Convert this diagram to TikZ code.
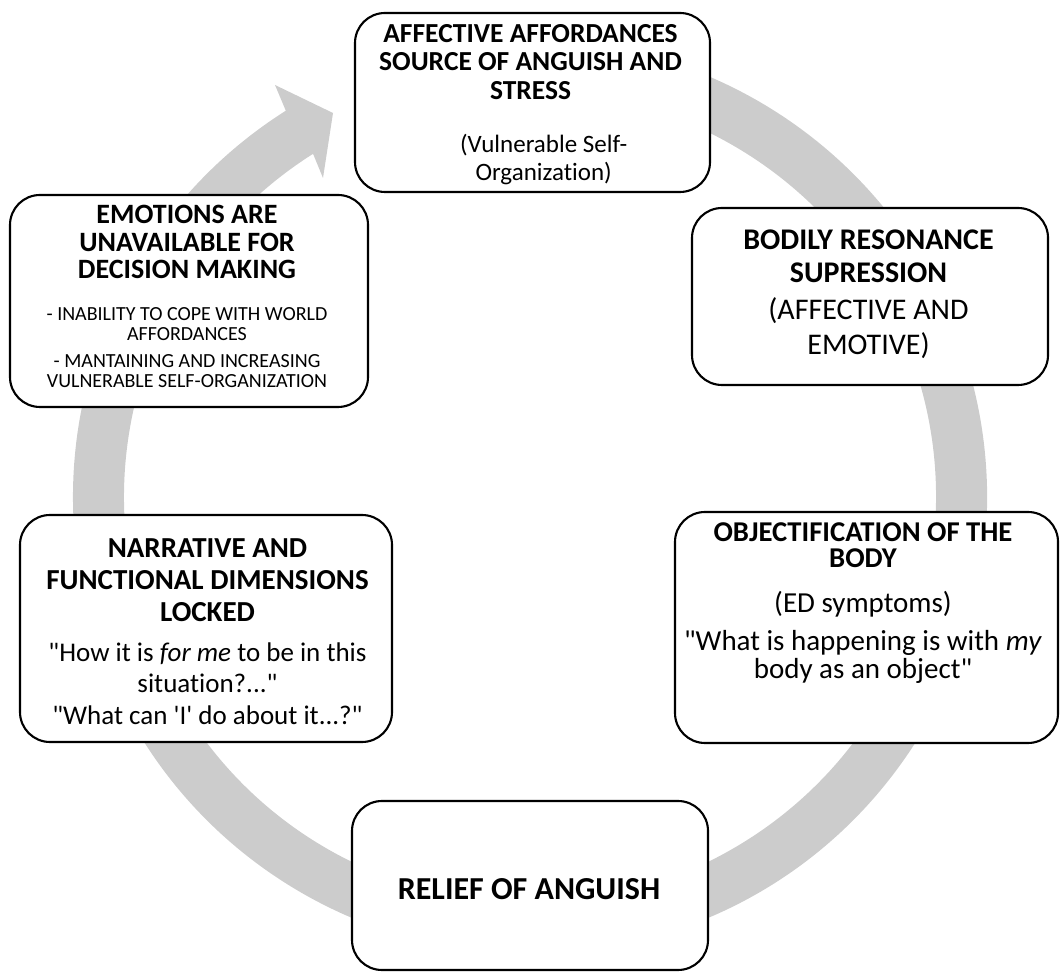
\documentclass[tikz,border=0pt]{standalone}
\usepackage{fontspec}
\setmainfont{Carlito}[Ligatures=NoCommon]
\usetikzlibrary{fit,calc}
\definecolor{ringgray}{RGB}{204,204,204}
\newcommand{\myfs}[2]{\fontsize{#1pt}{#2pt}\selectfont}
\newcommand{\dq}{\textquotedbl}
\tikzset{
  box/.style={draw=black, line width=1.2pt, rounded corners=0.6cm, fill=white, inner sep=0pt},
  txt/.style={inner sep=0pt, anchor=north, text width=9cm, align=flush center,
    execute at begin node=\setlength{\parindent}{0pt}},
}
\begin{document}
\begin{tikzpicture}[x=0.02cm,y=0.02cm]
\useasboundingbox (0,0) rectangle (1060,973);
% ring arrow
\coordinate (c) at (530,476);
\coordinate (ahout) at (275,888);
\coordinate (ahtip) at (333,860);
\coordinate (ahin) at (323,795);
\fill[ringgray] ($(c)+(105:457)$) arc[start angle=105,end angle=-237.7,radius=457]
  -- (ahout) -- (ahtip) -- (ahin) -- ($(c)+(-237.7:406)$)
  arc[start angle=-237.7,end angle=105,radius=406] -- cycle;
% boxes
\node[box, fit={(355,960) (710,781)}] (aff) {};
\node[box, fit={(10,778) (368,566)}] (emo) {};
\node[box, fit={(692,765) (1048,588)}] (bod) {};
\node[box, fit={(20,458) (392,231)}] (nar) {};
\node[box, fit={(675,461) (1058,230)}] (obj) {};
\node[box, fit={(352,172) (708,3)}] (rel) {};
% texts
\node[txt] (afft) at (530.5,949) {%
  {\bfseries\myfs{15.65}{16.22}AFFECTIVE AFFORDANCES\\SOURCE OF ANGUISH AND\\STRESS\par}
  \vspace{14.2pt}
  {\myfs{14.23}{15.93}\leftskip=15pt plus 1fil (Vulnerable Self-\\Organization)\par}};
\node[txt] (emot) at (187,767.7) {%
  {\bfseries\myfs{15.93}{15.65}EMOTIONS ARE\\UNAVAILABLE FOR\\DECISION MAKING\par}
  \vspace{12.5pt}
  {\myfs{11.38}{11.38}- INABILITY TO COPE WITH WORLD\\AFFORDANCES\par}
  \vspace{4pt}
  {\myfs{11.38}{11.38}- MANTAINING AND INCREASING\\VULNERABLE SELF-ORGANIZATION\par}};
\node[txt] (bodt) at (868.5,744) {%
  {\bfseries\myfs{17.07}{18.95}BODILY RESONANCE\\SUPRESSION\par}
  \vspace{1pt}
  {\myfs{17.07}{19.92}(AFFECTIVE AND\\EMOTIVE)\par}};
\node[txt] (nart) at (207.5,434.3) {%
  {\bfseries\myfs{16.5}{18.04}NARRATIVE AND\\FUNCTIONAL DIMENSIONS\\LOCKED\par}
  \vspace{5.1pt}
  {\myfs{15.36}{17.64}\dq How it is \textit{for me} to be in this\\situation?...\dq\par}
  \vspace{1pt}
  {\myfs{15.36}{17.64}\dq What can \textquotesingle I\textquotesingle{} do about it...?\dq\par}};
\node[txt] (objt) at (863,451.1) {%
  {\bfseries\myfs{16.33}{15.19}OBJECTIFICATION OF THE\\BODY\par}
  \vspace{9.7pt}
  {\myfs{16.5}{15.93}(ED symptoms)\par}
  \vspace{5.7pt}
  {\myfs{16.5}{15.93}\dq What is happening is with \textit{my}\\body as an object\dq\par}};
\node[txt] (relt) at (529,95.2) {%
  {\bfseries\myfs{18.21}{19}RELIEF OF ANGUISH\par}};
\end{tikzpicture}
\end{document}
